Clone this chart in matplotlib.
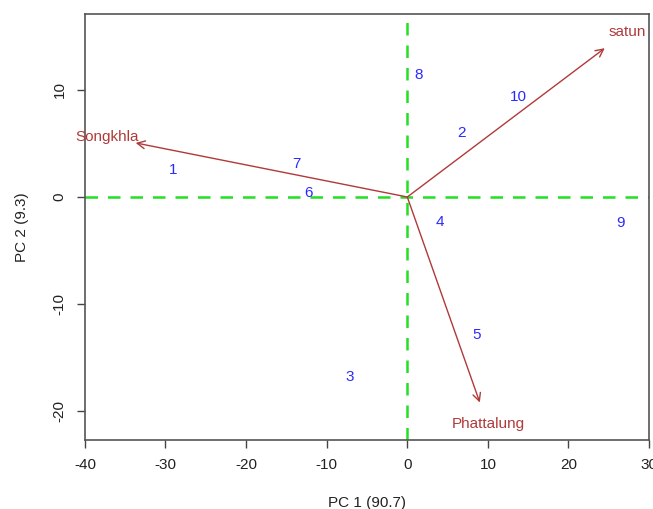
import matplotlib
matplotlib.use("Agg")
import matplotlib.pyplot as plt

plt.rcParams['font.family'] = ['Liberation Sans', 'DejaVu Sans']

# sample scores (PC1, PC2)
obs_labels = ["1", "2", "3", "4", "5", "6", "7", "8", "9", "10"]
pc1_scores = [-29.0, 6.7, -7.1, 4.1, 8.6, -12.3, -13.8, 1.4, 26.4, 13.8]
pc2_scores = [2.5, 6.0, -16.8, -2.3, -12.9, 0.4, 3.1, 11.4, -2.4, 9.3]

# variable loadings (arrow tips) and label positions
var_names = ["Songkhla", "satun", "Phattalung"]
var_pc1 = [-33.7, 24.5, 9.0]
var_pc2 = [5.05, 13.9, -19.2]
lab_pc1 = [-37.3, 27.3, 10.0]
lab_pc2 = [5.6, 15.4, -21.2]

xticks = [-40, -30, -20, -10, 0, 10, 20, 30]
yticks = [-20, -10, 0, 10]

fig = plt.figure(figsize=(6.53, 5.09), dpi=100)
ax = fig.add_axes([0.130, 0.1356, 0.864, 0.837])
ax.set_xlim(-40, 30)
ax.set_ylim(-22.7, 17.1)

ax.axhline(0, color="#22e022", lw=1.8, ls=(0, (5, 4)), zorder=1)
ax.axvline(0, color="#22e022", lw=1.8, ls=(0, (5, 4)), zorder=1)

for lab, x, y in zip(obs_labels, pc1_scores, pc2_scores):
    ax.text(x, y, lab, color="#2a2aff", fontsize=11, ha="center", va="center")

for name, x, y, lx, ly in zip(var_names, var_pc1, var_pc2, lab_pc1, lab_pc2):
    ax.annotate("", xy=(x, y), xytext=(0, 0),
                arrowprops=dict(arrowstyle="->", color="#b03a3a", lw=1,
                                shrinkA=0, shrinkB=0, mutation_scale=14))
    ax.text(lx, ly, name, color="#b03a3a", fontsize=11, ha="center", va="center")

ax.set_xticks(xticks)
ax.set_yticks(yticks)
ax.set_xticklabels([str(v) for v in xticks])
ax.set_yticklabels([str(v) for v in yticks], rotation=90, va="center")
ax.tick_params(direction="out", length=6, width=1, colors="#444444",
               labelcolor="#222222", labelsize=11, pad=7)
for s in ax.spines.values():
    s.set_color("#555555")
    s.set_linewidth(1.2)

ax.set_xlabel("PC 1 (90.7)", fontsize=11, color="#222222", labelpad=17)
ax.set_ylabel("PC 2 (9.3)", fontsize=11, color="#222222", labelpad=17)

fig.savefig("out.png", dpi=100)
